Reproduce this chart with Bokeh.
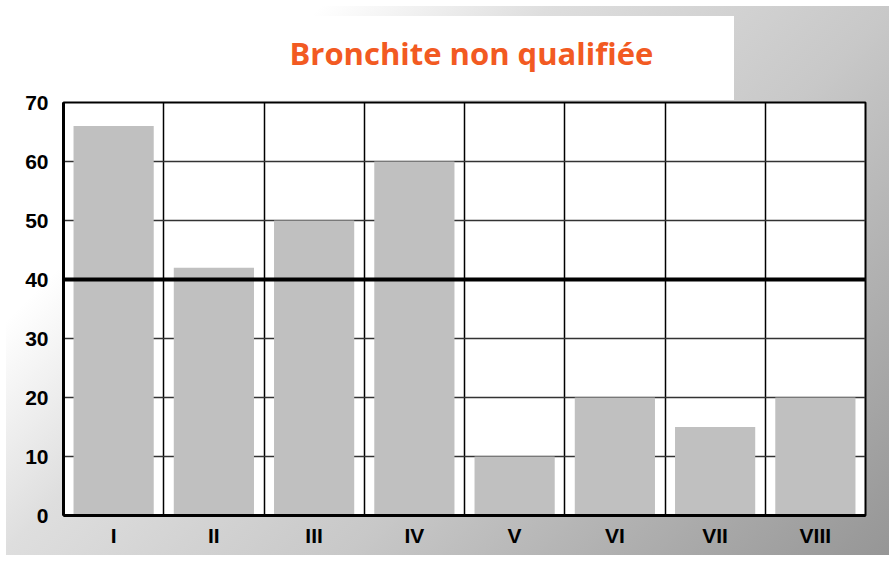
from bokeh.plotting import figure
from bokeh.models import Range1d, FixedTicker, Span, Title
from bokeh.embed import file_html
from bokeh.resources import INLINE

categories = ["I", "II", "III", "IV", "V", "VI", "VII", "VIII"]
values = [66, 42, 50, 60, 10, 20, 15, 20]
threshold = 40
y_ticks = [0, 10, 20, 30, 40, 50, 60, 70]
title_text = "Bronchite non qualifiée"

xs = [i + 0.5 for i in range(len(categories))]

p = figure(width=889, height=561, output_backend="svg", toolbar_location=None,
           x_range=Range1d(0, len(categories)), y_range=Range1d(0, 70),
           min_border_left=63, min_border_right=24, min_border_bottom=46, min_border_top=102)

p.styles = {"background": "linear-gradient(#ffffff,#ffffff) 6px 16px / 728px 84px no-repeat, "
                          "linear-gradient(135deg, #ffffff 0%, #ffffff 22%, #dedede 38%, #c8c8c8 62%, #969696 100%) 6px 6px / 883px 549px no-repeat, "
                          "#ffffff"}
p.border_fill_alpha = 0
p.background_fill_color = "white"
p.outline_line_color = "black"
p.outline_line_width = 2

p.vbar(x=xs, top=values, width=0.8, bottom=0, fill_color="#c0c0c0", line_color=None)

p.add_layout(Span(location=threshold, dimension="width", line_color="black", line_width=4))

t = Title(text=title_text, align="left", text_font="Open Sans", text_font_style="bold",
          text_font_size="31px", text_color="#f25a22", standoff=58, offset=226)
p.add_layout(t, "above")

p.xaxis.ticker = FixedTicker(ticks=xs)
p.xaxis.major_label_overrides = {x: c for x, c in zip(xs, categories)}
p.yaxis.ticker = FixedTicker(ticks=y_ticks)
for ax in (p.xaxis[0], p.yaxis[0]):
    ax.axis_line_color = "black"
    ax.axis_line_width = 3
    ax.major_tick_line_color = None
    ax.minor_tick_line_color = None
    ax.major_label_text_font = "Liberation Sans"
    ax.major_label_text_font_style = "bold"
    ax.major_label_text_font_size = "21px"
    ax.major_label_text_color = "black"
p.xaxis.major_label_standoff = 2
p.yaxis.major_label_standoff = 9

p.xgrid.ticker = FixedTicker(ticks=list(range(1, len(categories))))
p.xgrid.grid_line_color = "black"
p.xgrid.grid_line_width = 1.5
p.ygrid.ticker = FixedTicker(ticks=y_ticks)
p.ygrid.grid_line_color = "#333333"
p.ygrid.grid_line_width = 1.5

open("out.html", "w").write(file_html(p, INLINE))
